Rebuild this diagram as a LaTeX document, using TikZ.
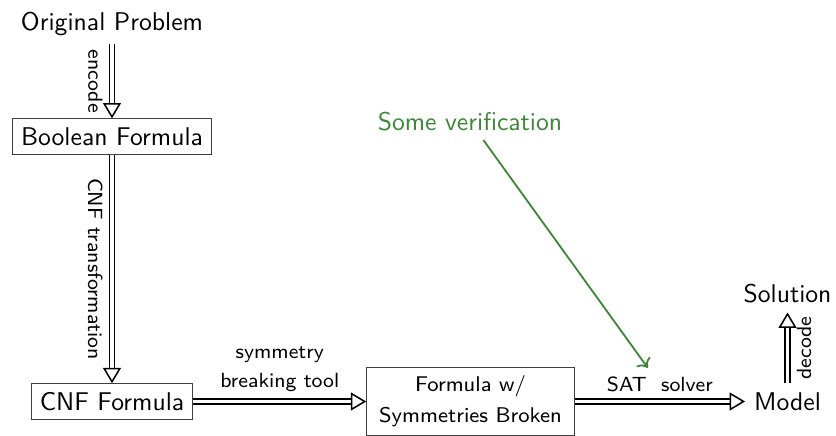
\documentclass[tikz,border=0pt]{standalone}
\usetikzlibrary{arrows.meta}
\definecolor{vgreen}{RGB}{58,135,52}
\begin{document}
\begin{tikzpicture}[x=0.39pt,y=-0.39pt, font=\sffamily,
  box/.style={draw=black!75, line width=0.4pt},
  lbl/.style={font=\sffamily\fontsize{8}{11.5}\selectfont},
  boxfont/.style={font=\sffamily\fontsize{8.3}{12}\selectfont},
  dbl/.style={double, double distance=1.4pt, line width=0.6pt,
    -{Triangle[open, length=6pt, width=7pt]}}]
\useasboundingbox (0,0) rectangle (836,436);
\node (orig) at (112,23.5) {Original Problem};
\node[box] (bool) at (112,136.5) {Boolean Formula};
\node[box] (cnf) at (112,401.5) {CNF Formula};
\node[box, boxfont, minimum width=80.9pt, minimum height=26.6pt, align=center] (fw) at (470.5,401.5) {Formula w/\\Symmetries Broken};
\node (model) at (787.5,401.5) {Model};
\node (sol) at (787.5,294) {Solution};
\node[text=vgreen] (verif) at (470,121.5) {Some verification};
\draw[dbl] (orig) -- node[lbl, rotate=-90, anchor=north] {encode} (bool);
\draw[dbl] (bool) -- node[lbl, rotate=-90, anchor=north] {CNF transformation} (cnf);
\draw[dbl] (cnf) -- node[lbl, above, align=center] {symmetry\\breaking tool} (fw);
\draw[dbl] (fw) -- node[lbl, above] (satl) {SAT\ \ solver} (model);
\draw[dbl] (model) -- node[lbl, rotate=90, anchor=north] {decode} (sol);
\draw[vgreen, line width=0.7pt, ->] (verif) -- (satl);
\end{tikzpicture}
\end{document}
